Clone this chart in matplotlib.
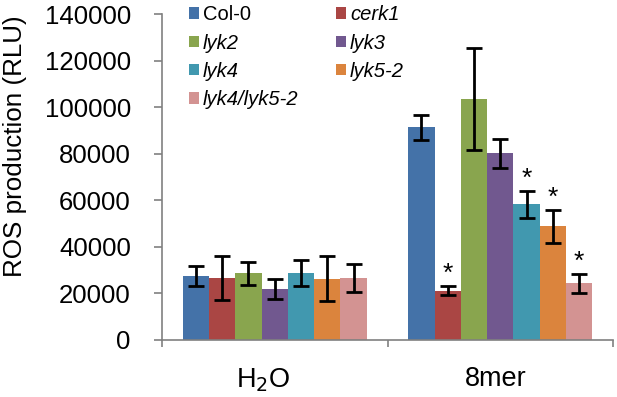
import matplotlib.pyplot as plt
import matplotlib.transforms as mtransforms
import numpy as np

plt.rcParams['font.family'] = ['Liberation Sans', 'DejaVu Sans']

treatments = ["H$_2$O", "8mer"]
genotypes = ["Col-0", "cerk1", "lyk2", "lyk3", "lyk4", "lyk5-2", "lyk4/lyk5-2"]
colors = ["#4472A8", "#AA4644", "#89A54E", "#71588F", "#4198AF", "#DB843D", "#D39392"]

# mean ROS per genotype: [H2O, 8mer]
h2o_mean = [27500, 26600, 28600, 21900, 28900, 26300, 26600]
h2o_err = [4300, 9400, 5000, 4300, 5600, 9600, 6200]
mer_mean = [91300, 21200, 103600, 80100, 58200, 48900, 24300]
mer_err = [5500, 2000, 22000, 6200, 5900, 7100, 4100]
signif = [False, True, False, False, True, True, True]   # stars on 8mer bars

fig = plt.figure(figsize=(6.17, 3.97), dpi=100)
ax = fig.add_axes([0.2626, 0.1436, 0.7309, 0.8211])

n = len(genotypes)
bw = 0.1165
centers = np.array([0.5, 1.5])
handles = []
for i in range(n):
    x = centers + (i - (n - 1) / 2) * bw
    vals = [h2o_mean[i], mer_mean[i]]
    errs = [h2o_err[i], mer_err[i]]
    b = ax.bar(x, vals, width=bw, color=colors[i], label=genotypes[i], zorder=2)
    ax.errorbar(x, vals, yerr=errs, fmt='none', ecolor='black', elinewidth=2,
                capsize=5.5, capthick=2, zorder=3)
    handles.append(b)
    if signif[i]:
        ax.annotate("*", (x[1], mer_mean[i] + mer_err[i]), xytext=(0, 0),
                    textcoords='offset points', ha='center', va='bottom', fontsize=19)

ax.set_xlim(0, 2)
ax.set_ylim(0, 140000)
ax.set_yticks(np.arange(0, 140001, 20000))
ax.set_xticks([0, 1, 2])
ax.set_xticklabels([])
ax.set_xticks(centers, minor=True)
ax.set_xticklabels(treatments, minor=True, fontsize=19.5)
ax.tick_params(axis='x', which='minor', length=0, pad=19)
ax.tick_params(axis='x', which='major', length=5, width=1.2, color='#808080')
ax.tick_params(axis='y', length=5.5, width=1.2, color='#808080', labelsize=18.5, pad=17)

# nudge category labels a little left like the original
for lab, dx in zip(ax.get_xticklabels(minor=True), [-12, -4]):
    lab.set_transform(lab.get_transform() + mtransforms.ScaledTranslation(dx / 100, 0, fig.dpi_scale_trans))

ax.set_ylabel("ROS production (RLU)", fontsize=18.7)
ax.yaxis.set_label_coords(-0.299, 0.594)

for s in ['top', 'right']:
    ax.spines[s].set_visible(False)
for s in ['left', 'bottom']:
    ax.spines[s].set_color('#808080')
    ax.spines[s].set_linewidth(1.2)

order = [0, 2, 4, 6, 1, 3, 5]
leg = ax.legend([handles[k] for k in order], [genotypes[k] for k in order], ncol=2,
                loc='upper left', bbox_to_anchor=(0.290, 1.012), bbox_transform=fig.transFigure,
                frameon=False, fontsize=14.5, handlelength=0.5, handleheight=0.5,
                handletextpad=0.2, labelspacing=0.46, columnspacing=1.85, borderpad=0)
for t in leg.get_texts():
    if t.get_text() != "Col-0":
        t.set_style('italic')

fig.savefig("out.png", dpi=100)
